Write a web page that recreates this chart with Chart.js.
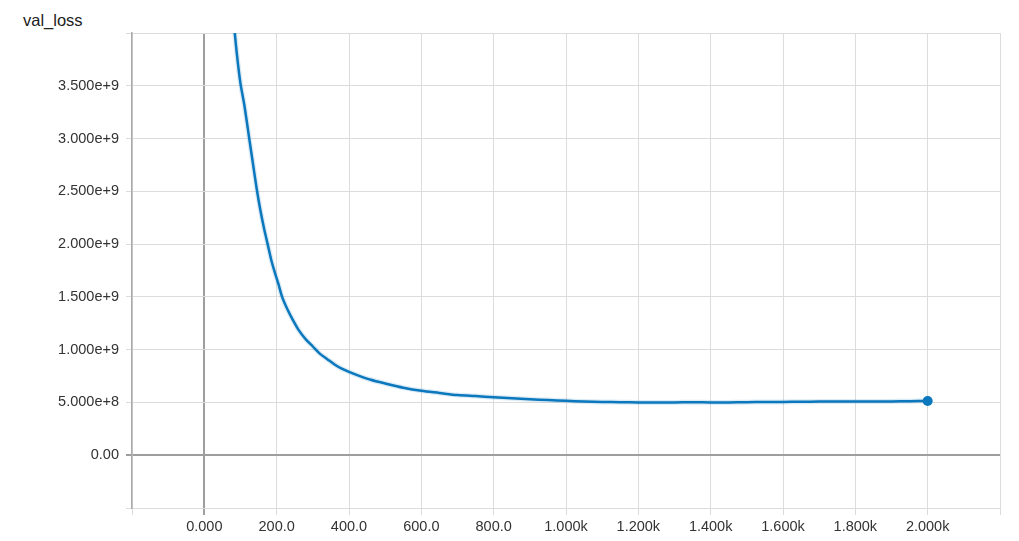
<!DOCTYPE html>
<html>
<head>
<meta charset="utf-8">
<script src="https://cdn.jsdelivr.net/npm/chart.js@4.4.1/dist/chart.umd.min.js"></script>
<style>
    html, body { margin: 0; padding: 0; background: #fff; }
    #wrap { position: relative; width: 1019px; height: 541px; }
    #title {
        position: absolute; left: 23px; top: 11px;
        font: 16.5px "Liberation Sans", Arial, sans-serif; color: #212121;
    }
    canvas { position: absolute; left: 0; top: 0; }
</style>
</head>
<body>
<div id="wrap">
    <div id="title">val_loss</div>
    <canvas id="lossChart" width="1019" height="541"></canvas>
</div>
<script>
// --- DATA ---
const steps = [80, 90, 100, 110, 120, 125, 135, 145, 155, 165, 175, 185, 195, 205, 215, 230, 245, 260, 280, 300,
    320, 340, 360, 380, 400, 430, 460, 500, 550, 600, 650, 700, 750, 800, 850, 900, 950, 1000, 1050, 1100,
    1150, 1200, 1250, 1300, 1350, 1400, 1450, 1500, 1550, 1600, 1650, 1700, 1750, 1800, 1850, 1900, 1950, 2000];
const valLoss = [4.15e9, 3.80e9, 3.52e9, 3.33e9, 3.10e9, 2.98e9, 2.75e9, 2.52e9, 2.32e9, 2.15e9, 2.00e9, 1.85e9,
    1.73e9, 1.62e9, 1.50e9, 1.38e9, 1.28e9, 1.19e9, 1.10e9, 1.03e9, 0.96e9, 0.91e9, 0.86e9, 0.82e9, 0.79e9,
    0.75e9, 0.715e9, 0.68e9, 0.64e9, 0.61e9, 0.59e9, 0.57e9, 0.56e9, 0.55e9, 0.54e9, 0.53e9, 0.522e9, 0.515e9,
    0.51e9, 0.505e9, 0.503e9, 0.50e9, 0.50e9, 0.50e9, 0.502e9, 0.50e9, 0.50e9, 0.503e9, 0.505e9, 0.505e9,
    0.507e9, 0.508e9, 0.508e9, 0.51e9, 0.51e9, 0.51e9, 0.512e9, 0.513e9];
const xTicks = { min: -200, max: 2200, step: 200 };
const yTicks = { min: -5e8, max: 4e9, step: 5e8 };

const FONT = { family: '"Liberation Sans", Arial, sans-serif', size: 14.5 };
const TEXT_COLOR = '#333';

// --- tick label formatters ---
const formatX = (v) => {
    if (v <= xTicks.min || v >= xTicks.max) return '';
    if (v === 0) return '0.000';
    if (v >= 1000) return (v / 1000).toFixed(3) + 'k';
    return v.toFixed(1);
};
const formatY = (v) => {
    if (v <= yTicks.min || v >= yTicks.max) return '';
    if (v === 0) return '0.00';
    if (v >= 1e9) return (v / 1e9).toFixed(3) + 'e+9';
    return (v / 1e8).toFixed(3) + 'e+8';
};

const gridColor = (ctx) => (ctx.tick && ctx.tick.value === 0) ? '#9e9e9e' : '#dcdcdc';
const gridWidth = (ctx) => (ctx.tick && ctx.tick.value === 0) ? 2 : 1;

const points = steps.map((s, i) => ({ x: s, y: valLoss[i] }));
const lastIdx = points.length - 1;

const ctx = document.getElementById('lossChart').getContext('2d');
const lossChart = new Chart(ctx, {
    type: 'line',
    data: {
        datasets: [{
            label: 'val_loss',
            data: points,
            borderColor: '#0b77bd',
            borderWidth: 2.5,
            tension: 0.3,
            pointRadius: (c) => c.dataIndex === lastIdx ? 5 : 0,
            pointBackgroundColor: '#0b77bd',
            pointBorderWidth: 0
        }, {
            // faint raw trace under the smoothed line
            label: 'raw',
            data: points,
            borderColor: 'rgba(11,119,189,0.15)',
            borderWidth: 5,
            tension: 0.3,
            pointRadius: 0
        }]
    },
    options: {
        responsive: false,
        animation: false,
        layout: { padding: { top: 33, right: 19, left: 0, bottom: 0 } },
        plugins: {
            legend: { display: false },
            tooltip: { enabled: false }
        },
        scales: {
            x: {
                type: 'linear',
                min: xTicks.min,
                max: xTicks.max,
                afterFit: (scale) => { scale.height = 33; },
                ticks: {
                    stepSize: xTicks.step,
                    callback: formatX,
                    font: FONT,
                    color: TEXT_COLOR,
                    padding: 3,
                    maxRotation: 0,
                    autoSkip: false
                },
                grid: { color: gridColor, lineWidth: gridWidth, tickLength: 7 },
                border: { color: '#dcdcdc', width: 1 }
            },
            y: {
                type: 'linear',
                min: yTicks.min,
                max: yTicks.max,
                afterFit: (scale) => { scale.width = 132; },
                ticks: {
                    stepSize: yTicks.step,
                    callback: formatY,
                    font: FONT,
                    color: TEXT_COLOR,
                    padding: 7,
                    autoSkip: false
                },
                grid: { color: gridColor, lineWidth: gridWidth, tickLength: 6 },
                border: { color: '#aaaaaa', width: 1.5 }
            }
        }
    }
});
</script>
</body>
</html>
